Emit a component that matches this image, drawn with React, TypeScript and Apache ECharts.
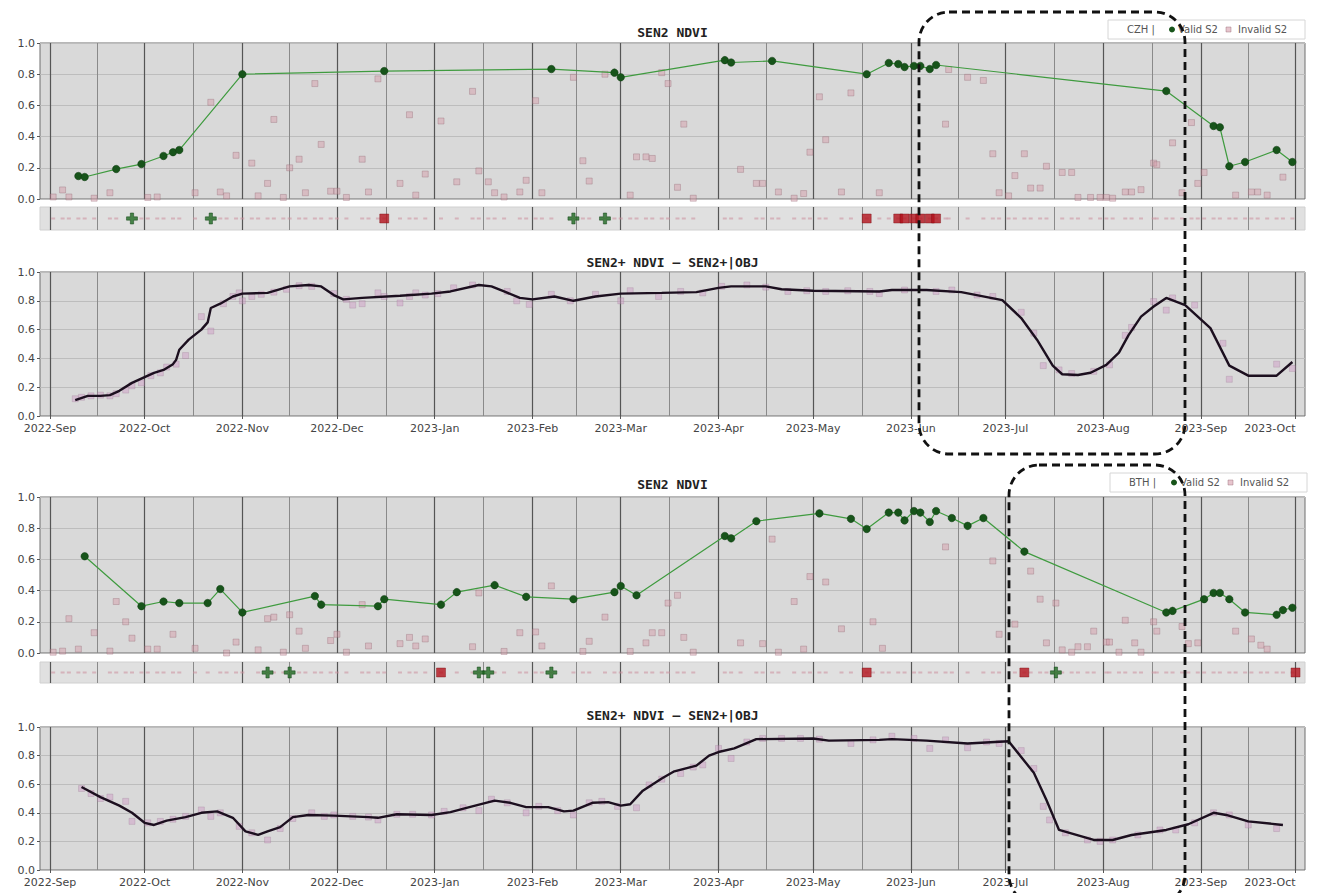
import React, { useEffect, useRef } from 'react';
import * as echarts from 'echarts';

// ---------- axis / tick data ----------
const monthStarts = ['2022-09-01', '2022-10-01', '2022-11-01', '2022-12-01', '2023-01-01', '2023-02-01', '2023-03-01', '2023-04-01', '2023-05-01', '2023-06-01', '2023-07-01', '2023-08-01', '2023-09-01', '2023-10-01'];
const monthLabels = ['2022-Sep', '2022-Oct', '2022-Nov', '2022-Dec', '2023-Jan', '2023-Feb', '2023-Mar', '2023-Apr', '2023-May', '2023-Jun', '2023-Jul', '2023-Aug', '2023-Sep', '2023-Oct'];
const yTicks = [0, 0.2, 0.4, 0.6, 0.8, 1.0];

// ---------- CZH (days since 2022-09-01, NDVI) ----------
const czhValid = [[9, 0.147], [11, 0.141], [21, 0.192], [29, 0.224], [36, 0.276], [39, 0.30], [41, 0.314], [61, 0.80], [106, 0.82], [159, 0.833], [179, 0.81], [181, 0.78], [214, 0.89], [216, 0.875], [229, 0.885], [259, 0.80], [266, 0.872], [269, 0.865], [271, 0.846], [274, 0.853], [276, 0.853], [279, 0.833], [281, 0.859], [354, 0.692], [369, 0.468], [371, 0.46], [374, 0.21], [379, 0.237], [389, 0.314], [394, 0.237]];
const czhInvalid = [[1, 0.013], [4, 0.058], [6, 0.013], [14, 0.005], [19, 0.04], [31, 0.01], [34, 0.013], [46, 0.04], [51, 0.62], [54, 0.045], [56, 0.02], [59, 0.28], [64, 0.23], [66, 0.02], [69, 0.10], [71, 0.51], [74, 0.01], [76, 0.20], [79, 0.255], [81, 0.04], [84, 0.74], [86, 0.35], [89, 0.05], [91, 0.05], [94, 0.01], [99, 0.255], [101, 0.045], [104, 0.77], [111, 0.10], [114, 0.54], [116, 0.025], [119, 0.16], [124, 0.50], [129, 0.11], [134, 0.69], [136, 0.18], [139, 0.11], [141, 0.04], [144, 0.013], [149, 0.045], [151, 0.12], [154, 0.63], [156, 0.04], [166, 0.78], [169, 0.245], [171, 0.115], [176, 0.80], [184, 0.025], [186, 0.27], [189, 0.27], [191, 0.26], [194, 0.81], [196, 0.74], [199, 0.075], [201, 0.48], [204, 0.005], [219, 0.19], [224, 0.10], [226, 0.10], [231, 0.045], [236, 0.005], [239, 0.035], [241, 0.30], [244, 0.655], [246, 0.38], [251, 0.045], [254, 0.68], [263, 0.04], [284, 0.48], [285, 0.83], [291, 0.78], [296, 0.76], [299, 0.29], [301, 0.04], [304, 0.02], [306, 0.15], [309, 0.29], [311, 0.07], [314, 0.07], [316, 0.21], [321, 0.17], [324, 0.17], [326, 0.01], [330, 0.01], [333, 0.01], [335, 0.01], [337, 0.005], [341, 0.045], [343, 0.045], [346, 0.06], [350, 0.23], [351, 0.22], [356, 0.36], [359, 0.04], [362, 0.49], [364, 0.10], [366, 0.17], [376, 0.025], [381, 0.045], [383, 0.045], [386, 0.025], [391, 0.14]];
const czhFlagPlus = [26, 51, 166, 176];
const czhFlagSquare = [106, 259, 269, 271, 274, 276, 279, 281];
const czhSmooth = [[8, 0.11], [12, 0.14], [16, 0.14], [19, 0.145], [22, 0.175], [26, 0.23], [30, 0.27], [33, 0.30], [36, 0.32], [39, 0.36], [40, 0.39], [41, 0.46], [44, 0.53], [48, 0.60], [50, 0.65], [51, 0.75], [54, 0.78], [58, 0.83], [61, 0.85], [69, 0.855], [76, 0.90], [82, 0.91], [86, 0.90], [90, 0.84], [93, 0.81], [99, 0.82], [111, 0.835], [121, 0.85], [127, 0.865], [136, 0.91], [140, 0.90], [144, 0.865], [149, 0.82], [153, 0.81], [160, 0.83], [166, 0.80], [173, 0.83], [181, 0.85], [194, 0.855], [205, 0.86], [212, 0.89], [216, 0.90], [227, 0.90], [232, 0.88], [242, 0.87], [263, 0.865], [267, 0.875], [278, 0.875], [289, 0.86], [302, 0.805], [308, 0.68], [313, 0.53], [318, 0.35], [321, 0.29], [326, 0.285], [330, 0.30], [335, 0.355], [339, 0.44], [342, 0.56], [346, 0.69], [350, 0.76], [354, 0.82], [360, 0.77], [368, 0.61], [374, 0.35], [380, 0.28], [389, 0.28], [394, 0.375]];
const czhSmoothObs = [[8, 0.12], [10, 0.13], [13, 0.14], [16, 0.145], [19, 0.14], [21, 0.155], [24, 0.18], [26, 0.21], [29, 0.23], [32, 0.28], [35, 0.30], [37, 0.34], [40, 0.36], [43, 0.42], [48, 0.69], [51, 0.59], [55, 0.78], [58, 0.83], [60, 0.855], [61, 0.80], [64, 0.83], [67, 0.845], [71, 0.86], [75, 0.88], [79, 0.905], [83, 0.90], [90, 0.85], [94, 0.81], [96, 0.77], [99, 0.78], [104, 0.855], [106, 0.83], [111, 0.785], [114, 0.83], [116, 0.855], [119, 0.84], [123, 0.85], [128, 0.89], [134, 0.91], [145, 0.865], [148, 0.80], [152, 0.775], [159, 0.845], [165, 0.80], [173, 0.845], [181, 0.80], [184, 0.87], [193, 0.83], [200, 0.865], [207, 0.855], [213, 0.90], [221, 0.91], [227, 0.895], [234, 0.865], [240, 0.87], [246, 0.865], [253, 0.87], [260, 0.865], [263, 0.85], [271, 0.875], [281, 0.865], [286, 0.875], [294, 0.84], [299, 0.83], [308, 0.72], [312, 0.575], [315, 0.35], [320, 0.32], [324, 0.295], [331, 0.31], [336, 0.355], [341, 0.56], [343, 0.615], [350, 0.795], [354, 0.735], [356, 0.82], [363, 0.77], [372, 0.505], [374, 0.255], [389, 0.36], [394, 0.33]];

// ---------- BTH ----------
const bthValid = [[11, 0.62], [29, 0.30], [36, 0.33], [41, 0.32], [50, 0.32], [54, 0.41], [61, 0.26], [84, 0.365], [86, 0.31], [104, 0.30], [106, 0.345], [124, 0.31], [129, 0.39], [141, 0.435], [151, 0.36], [166, 0.345], [179, 0.39], [181, 0.43], [186, 0.37], [214, 0.75], [216, 0.735], [224, 0.845], [244, 0.895], [254, 0.86], [259, 0.795], [266, 0.90], [269, 0.90], [271, 0.85], [274, 0.91], [276, 0.90], [279, 0.84], [281, 0.91], [286, 0.865], [291, 0.815], [296, 0.865], [309, 0.65], [354, 0.26], [356, 0.27], [366, 0.345], [369, 0.385], [371, 0.385], [374, 0.345], [379, 0.26], [389, 0.245], [391, 0.275], [394, 0.29]];
const bthInvalid = [[1, 0.005], [4, 0.012], [6, 0.22], [9, 0.025], [14, 0.13], [19, 0.012], [21, 0.33], [24, 0.20], [26, 0.095], [31, 0.025], [34, 0.025], [39, 0.12], [46, 0.03], [56, 0.0], [59, 0.07], [66, 0.02], [69, 0.22], [71, 0.23], [74, 0.005], [76, 0.245], [79, 0.14], [81, 0.03], [89, 0.08], [91, 0.12], [94, 0.005], [99, 0.31], [101, 0.045], [111, 0.06], [114, 0.10], [116, 0.045], [119, 0.09], [134, 0.04], [136, 0.385], [144, 0.01], [149, 0.13], [154, 0.135], [156, 0.045], [159, 0.43], [169, 0.01], [171, 0.075], [176, 0.23], [184, 0.01], [189, 0.065], [191, 0.13], [194, 0.13], [196, 0.32], [199, 0.37], [201, 0.10], [204, 0.005], [219, 0.065], [226, 0.06], [229, 0.73], [231, 0.005], [236, 0.33], [239, 0.025], [241, 0.49], [246, 0.455], [251, 0.155], [261, 0.20], [264, 0.03], [284, 0.68], [299, 0.59], [301, 0.12], [306, 0.185], [311, 0.525], [314, 0.345], [316, 0.065], [319, 0.32], [321, 0.02], [324, 0.005], [326, 0.04], [329, 0.04], [331, 0.14], [335, 0.07], [336, 0.07], [339, 0.005], [341, 0.21], [344, 0.065], [346, 0.005], [350, 0.20], [351, 0.14], [359, 0.17], [361, 0.06], [364, 0.065], [376, 0.14], [381, 0.09], [384, 0.05], [386, 0.025]];
const bthFlagPlus = [69, 76, 136, 139, 159, 319];
const bthFlagSquare = [124, 259, 309, 395];
const bthSmooth = [[10, 0.58], [16, 0.51], [22, 0.45], [26, 0.40], [30, 0.33], [33, 0.315], [37, 0.345], [43, 0.37], [48, 0.40], [53, 0.41], [58, 0.365], [62, 0.27], [66, 0.245], [69, 0.27], [73, 0.30], [77, 0.37], [82, 0.385], [90, 0.38], [101, 0.37], [104, 0.365], [110, 0.39], [121, 0.385], [127, 0.405], [133, 0.44], [141, 0.485], [146, 0.47], [151, 0.44], [158, 0.44], [163, 0.41], [166, 0.415], [172, 0.47], [177, 0.475], [181, 0.45], [184, 0.46], [188, 0.555], [194, 0.64], [198, 0.69], [205, 0.73], [209, 0.80], [212, 0.825], [217, 0.85], [224, 0.915], [242, 0.92], [247, 0.905], [263, 0.91], [267, 0.915], [278, 0.905], [291, 0.885], [304, 0.9], [312, 0.68], [316, 0.49], [320, 0.28], [331, 0.21], [337, 0.21], [343, 0.245], [354, 0.28], [361, 0.32], [369, 0.40], [373, 0.385], [380, 0.34], [391, 0.315]];
const bthSmoothObs = [[10, 0.57], [13, 0.535], [16, 0.50], [19, 0.51], [24, 0.48], [26, 0.34], [31, 0.33], [35, 0.34], [39, 0.355], [43, 0.375], [48, 0.42], [51, 0.375], [54, 0.40], [60, 0.305], [64, 0.26], [69, 0.21], [73, 0.29], [77, 0.36], [83, 0.40], [87, 0.375], [90, 0.385], [96, 0.375], [101, 0.37], [104, 0.35], [110, 0.39], [115, 0.39], [121, 0.385], [125, 0.41], [131, 0.435], [136, 0.415], [140, 0.495], [145, 0.47], [151, 0.40], [155, 0.445], [161, 0.415], [166, 0.385], [171, 0.47], [175, 0.48], [180, 0.445], [186, 0.435], [190, 0.595], [194, 0.635], [200, 0.675], [204, 0.72], [207, 0.735], [212, 0.85], [216, 0.78], [221, 0.895], [226, 0.92], [232, 0.92], [238, 0.92], [244, 0.915], [254, 0.885], [261, 0.91], [267, 0.935], [274, 0.92], [279, 0.85], [284, 0.91], [291, 0.855], [297, 0.895], [301, 0.885], [308, 0.835], [312, 0.71], [315, 0.445], [317, 0.35], [322, 0.26], [329, 0.21], [333, 0.20], [337, 0.21], [345, 0.245], [352, 0.28], [357, 0.28], [363, 0.33], [369, 0.40], [374, 0.385], [380, 0.315], [389, 0.29]];

// ---------- helpers ----------
const DAY = 86400000;
const parseDay = (s: string) => {
  const [y, m, d] = s.split('-').map(Number);
  return new Date(y, m - 1, d).getTime();
};
const BASE = parseDay('2022-09-01');
const toTs = (d: number) => BASE + d * DAY;
const pts = (arr: number[][]) => arr.map(([d, v]) => [toTs(d), v]);
const monthTs = monthStarts.map(parseDay);
const midTs = monthTs.slice(0, -1).map((t, i) => (t + monthTs[i + 1]) / 2);
const X_MIN = BASE - 3.17 * DAY;
const X_MAX = BASE + 398 * DAY;

const LEFT = 40;
const WIDTH = 1265;
const gridBoxes = [
  { top: 43, height: 156, strip: false, labels: false },
  { top: 207, height: 23, strip: true, labels: false },
  { top: 272, height: 144, strip: false, labels: true },
  { top: 497, height: 156, strip: false, labels: false },
  { top: 662, height: 21, strip: true, labels: false },
  { top: 727, height: 143, strip: false, labels: true },
];

const PINK_FILL = 'rgba(212,150,165,0.55)';
const PINK_BORDER = 'rgba(150,105,118,0.55)';
const OBS_FILL = 'rgba(205,150,195,0.55)';
const GREEN_LINE = '#3f9b3f';
const GREEN_DOT = '#17541a';
const PLUS_PATH = 'path://M3.5,0H6.5V3.5H10V6.5H6.5V10H3.5V6.5H0V3.5H3.5Z';

function gridLines(i: number) {
  return {
    type: 'scatter',
    xAxisIndex: i,
    yAxisIndex: i,
    data: [[X_MIN, -5]],
    symbolSize: 0,
    silent: true,
    z: 1,
    markLine: {
      silent: true,
      z: 1,
      symbol: ['none', 'none'],
      label: { show: false },
      emphasis: { disabled: true },
      data: [
        ...midTs.map((t) => ({ xAxis: t, lineStyle: { color: '#8a8a8a', width: 1, type: 'solid' } })),
        ...monthTs.map((t) => ({ xAxis: t, lineStyle: { color: '#555555', width: 1.2, type: 'solid' } })),
      ],
    },
  };
}

function panelSeries(site: 'czh' | 'bth', base: number) {
  const valid = site === 'czh' ? czhValid : bthValid;
  const invalid = site === 'czh' ? czhInvalid : bthInvalid;
  const plus = site === 'czh' ? czhFlagPlus : bthFlagPlus;
  const square = site === 'czh' ? czhFlagSquare : bthFlagSquare;
  const smooth = site === 'czh' ? czhSmooth : bthSmooth;
  const obs = site === 'czh' ? czhSmoothObs : bthSmoothObs;
  const obsDays = [...valid.map((p) => p[0]), ...invalid.map((p) => p[0])].sort((a, b) => a - b);
  return [
    gridLines(base),
    {
      type: 'scatter', xAxisIndex: base, yAxisIndex: base, z: 3, silent: true,
      symbol: 'rect', symbolSize: 6,
      itemStyle: { color: PINK_FILL, borderColor: PINK_BORDER, borderWidth: 0.8 },
      data: pts(invalid),
    },
    {
      type: 'line', xAxisIndex: base, yAxisIndex: base, z: 4, silent: true,
      symbol: 'circle', symbolSize: 7.5, showSymbol: true,
      lineStyle: { color: GREEN_LINE, width: 1.2 },
      itemStyle: { color: GREEN_DOT, borderColor: '#0f3a10', borderWidth: 0.5 },
      data: pts(valid),
    },
    gridLines(base + 1),
    {
      type: 'scatter', xAxisIndex: base + 1, yAxisIndex: base + 1, z: 3, silent: true,
      symbol: 'rect', symbolSize: [4, 2],
      itemStyle: { color: 'rgba(205,145,158,0.7)' },
      data: obsDays.map((d) => [toTs(d), 0]),
    },
    {
      type: 'scatter', xAxisIndex: base + 1, yAxisIndex: base + 1, z: 5, silent: true,
      symbol: PLUS_PATH, symbolSize: 11,
      itemStyle: { color: '#1f6a22', borderColor: '#0f3f12', borderWidth: 0.6 },
      data: plus.map((d) => [toTs(d), 0]),
    },
    {
      type: 'scatter', xAxisIndex: base + 1, yAxisIndex: base + 1, z: 5, silent: true,
      symbol: 'rect', symbolSize: 9,
      itemStyle: { color: '#b3121c', borderColor: '#7a0a10', borderWidth: 0.5 },
      data: square.map((d) => [toTs(d), 0]),
    },
    gridLines(base + 2),
    {
      type: 'scatter', xAxisIndex: base + 2, yAxisIndex: base + 2, z: 3, silent: true,
      symbol: 'rect', symbolSize: 6,
      itemStyle: { color: OBS_FILL, borderColor: 'rgba(150,110,140,0.5)', borderWidth: 0.6 },
      data: pts(obs),
    },
    {
      type: 'line', xAxisIndex: base + 2, yAxisIndex: base + 2, z: 4, silent: true,
      showSymbol: false, symbol: 'none',
      lineStyle: { color: '#1c0f1f', width: 2.4 },
      data: pts(smooth),
    },
  ];
}

function legend(x: number, y: number, name: string) {
  const cy = y + 9.5;
  const font = '10px "DejaVu Sans"';
  return {
    type: 'group',
    z: 50,
    children: [
      { type: 'rect', shape: { x, y, width: 197, height: 19 }, style: { fill: 'rgba(255,255,255,0.9)', stroke: '#d6d6d6', lineWidth: 1 } },
      { type: 'text', style: { x: x + 19, y: cy, text: name + ' |', font, fill: '#555', textVerticalAlign: 'middle' } },
      { type: 'circle', shape: { cx: x + 64, cy, r: 3 }, style: { fill: GREEN_DOT } },
      { type: 'text', style: { x: x + 70, y: cy, text: 'Valid S2', font, fill: '#555', textVerticalAlign: 'middle' } },
      { type: 'rect', shape: { x: x + 118, y: cy - 2.5, width: 5, height: 5 }, style: { fill: PINK_FILL, stroke: PINK_BORDER, lineWidth: 0.8 } },
      { type: 'text', style: { x: x + 130, y: cy, text: 'Invalid S2', font, fill: '#555', textVerticalAlign: 'middle' } },
    ],
  };
}

function title(text: string, y: number) {
  return {
    type: 'text', z: 50,
    style: { x: LEFT + WIDTH / 2, y, text, font: 'bold 13px "DejaVu Sans Mono"', fill: '#222', textAlign: 'center', textVerticalAlign: 'middle' },
  };
}

function monthLabel(v: number) {
  let best = 0;
  let dist = Infinity;
  monthTs.forEach((t, k) => { const dd = Math.abs(t - v); if (dd < dist) { dist = dd; best = k; } });
  return dist < DAY ? monthLabels[best] : '';
}

function buildOption() {
  const grid = gridBoxes.map((g) => ({
    left: LEFT, top: g.top, width: WIDTH, height: g.height,
    show: true,
    backgroundColor: g.strip ? '#e0e0e0' : '#d9d9d9',
    borderColor: g.strip ? '#d0d0d0' : '#6e6e6e',
    borderWidth: 1,
    containLabel: false,
    outerBoundsMode: 'none',
  }));
  const xAxis = gridBoxes.map((g, i) => ({
    type: 'value', gridIndex: i, min: X_MIN, max: X_MAX, scale: true,
    axisLine: { show: false },
    splitLine: { show: false },
    axisTick: g.labels ? { show: true, length: 3, customValues: monthTs, lineStyle: { color: '#555' } } : { show: false },
    axisLabel: g.labels
      ? {
          show: true, customValues: monthTs, fontSize: 11, color: '#444', margin: 7,
          fontFamily: '"DejaVu Sans"', hideOverlap: false, alignMaxLabel: 'right',
          formatter: (v: number) => monthLabel(v),
        }
      : { show: false },
  }));
  const yAxis = gridBoxes.map((g, i) => (g.strip
    ? { type: 'value', gridIndex: i, min: -1, max: 1, show: false, splitLine: { show: false } }
    : {
        type: 'value', gridIndex: i, min: yTicks[0], max: yTicks[yTicks.length - 1], interval: 0.2,
        axisLine: { show: false },
        axisTick: { show: true, length: 3, lineStyle: { color: '#555' } },
        axisLabel: { fontSize: 11, color: '#444', margin: 5, fontFamily: '"DejaVu Sans"', formatter: (v: number) => v.toFixed(1) },
        splitLine: { show: true, lineStyle: { color: '#bdbdbd', width: 1 } },
      }));

  const graphic = [
    title('SEN2 NDVI', 32),
    title('SEN2+ NDVI \u2013 SEN2+|OBJ', 262),
    title('SEN2 NDVI', 484),
    title('SEN2+ NDVI \u2013 SEN2+|OBJ', 715),
    legend(1108, 20, 'CZH'),
    legend(1110, 473, 'BTH'),
    {
      type: 'rect', z: 100, silent: true,
      shape: { x: 919, y: 12, width: 266, height: 442, r: 30 },
      style: { fill: 'none', stroke: '#111', lineWidth: 2.8, lineDash: [8, 5] },
    },
    {
      type: 'rect', z: 100, silent: true,
      shape: { x: 1009, y: 465, width: 176, height: 440, r: 30 },
      style: { fill: 'none', stroke: '#111', lineWidth: 2.8, lineDash: [8, 5] },
    },
  ];

  return {
    animation: false,
    backgroundColor: '#ffffff',
    grid,
    xAxis,
    yAxis,
    series: [...panelSeries('czh', 0), ...panelSeries('bth', 3)],
    graphic,
  };
}

export default function App() {
  const ref = useRef<HTMLDivElement>(null);
  useEffect(() => {
    if (!ref.current) return;
    const chart = echarts.init(ref.current, null, { renderer: 'svg' });
    chart.setOption(buildOption() as any);
    return () => chart.dispose();
  }, []);
  return <div ref={ref} style={{ position: 'fixed', left: 0, top: 0, width: 1317, height: 893, background: '#fff' }} />;
}
